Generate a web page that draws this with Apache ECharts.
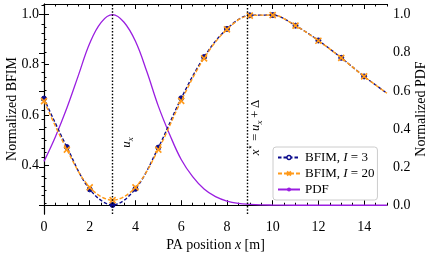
<!DOCTYPE html>
<html>
<head>
<meta charset="utf-8">
<script src="https://cdn.jsdelivr.net/npm/echarts@6/dist/echarts.min.js"></script>
<style>
html,body{margin:0;padding:0;background:#fff;}
#c{width:432px;height:257px;}
</style>
</head>
<body>
<div id="c"></div>
<script>
// ---- data ----
var positions = [0,1,2,3,4,5,6,7,8,9,10,11,12,13,14,15];
var bfimI3  = [0.665,0.472,0.304,0.242,0.306,0.470,0.666,0.830,0.942,0.996,0.997,0.955,0.896,0.827,0.753,0.686];
var bfimI20 = [0.655,0.462,0.312,0.261,0.312,0.462,0.656,0.825,0.940,0.995,0.997,0.955,0.895,0.827,0.753,0.686];
var pdfX = [0,0.5,1,1.5,2,2.5,3,3.5,4,4.5,5,5.5,6,6.5,7,7.5,8,8.5,9,9.5,10,11,12,13,14,15];
var pdfY = [0.23,0.36,0.51,0.68,0.85,0.96,1.0,0.96,0.86,0.70,0.52,0.37,0.24,0.15,0.085,0.045,0.022,0.010,0.005,0.002,0.001,0,0,0,0,0];
var refLines = [3, 8.9];            // u_x and x* = u_x + Delta
var xTicks = [0,2,4,6,8,10,12,14];
var yLeftTicks = [0.4,0.6,0.8,1.0];
var yRightTicks = [0.0,0.2,0.4,0.6,0.8,1.0];
var xRange = [0, 15];
var yLeftRange = [0.206, 1.041];
var yRightRange = [-0.046, 1.056];

function steps(a, b, s){ var r=[]; for (var v=a; v<=b+1e-9; v+=s) r.push(+v.toFixed(3)); return r; }
var xMinor = steps(0, 15, 0.5);
var yLeftMinor = steps(0.25, 1.0, 0.05);
var yRightMinor = steps(0, 1.05, 0.05);

var FONT = 'Liberation Serif';
var BLUE = '#0b0b8c', ORANGE = '#ff9a1a', PURPLE = '#9a1ee0';

function pairs(xs, ys){ return xs.map(function(x,i){ return [x, ys[i]]; }); }
function markPairs(xs, ys){
  return xs.map(function(x,i){ var p = {value:[x, ys[i]]}; if (x === 15) { p.symbolSize = 0; } return p; });
}

var lineAx = {show:true, lineStyle:{color:'#000', width:1.1}};
function xAx(pos, ticks, len, labels){
  return {
    type:'value', position:pos, min:xRange[0], max:xRange[1],
    axisLine: labels!==null ? lineAx : {show:false},
    splitLine:{show:false},
    axisTick:{show:true, inside:true, length:len, customValues:ticks, lineStyle:{color:'#000', width:1}},
    axisLabel: labels ? {show:true, customValues:xTicks, margin:6, color:'#000', fontFamily:FONT, fontSize:14} : {show:false}
  };
}
function yAx(pos, range, ticks, len, labels, name, nameGap){
  var o = {
    type:'value', position:pos, min:range[0], max:range[1],
    axisLine: labels!==null ? lineAx : {show:false},
    splitLine:{show:false},
    axisTick:{show:true, inside:true, length:len, customValues:ticks, lineStyle:{color:'#000', width:1}},
    axisLabel: labels ? {show:true, customValues:labels, margin:pos==='left'?5:6, color:'#000', fontFamily:FONT, fontSize:14,
                         formatter:function(v){ return v.toFixed(1); }} : {show:false}
  };
  if (name) {
    o.name = name; o.nameLocation = 'middle'; o.nameGap = nameGap; o.nameMoveOverlap = false;
    o.nameTextStyle = {color:'#000', fontFamily:FONT, fontSize:14};
  }
  return o;
}

var chart = echarts.init(document.getElementById('c'), null, {renderer:'canvas'});
var xAxes = [
  xAx('bottom', xTicks, 5, true),
  xAx('bottom', xMinor, 2.5, null),
  xAx('top', xTicks, 5, false),
  xAx('top', xMinor, 2.5, null)
];
xAxes[0].name = '{n|PA position }{i|x}{n| [m]}';
xAxes[0].nameLocation = 'middle';
xAxes[0].nameGap = 24;
xAxes[0].nameMoveOverlap = false;
xAxes[0].nameTextStyle = {color:'#000', fontFamily:FONT, fontSize:14,
  rich:{n:{fontFamily:FONT, fontSize:14, color:'#000'}, i:{fontFamily:FONT, fontSize:14, fontStyle:'italic', color:'#000'}}};

var yAxes = [
  yAx('left', yLeftRange, yLeftTicks, 5, yLeftTicks, 'Normalized BFIM', 25),
  yAx('left', yLeftRange, yLeftMinor, 2.5, null),
  yAx('right', yRightRange, yRightTicks, 5, yRightTicks, 'Normalized PDF', 27),
  yAx('right', yRightRange, yRightMinor, 2.5, null)
];

var xSym = 'path://M0,0L10,10M10,0L0,10';
var labelI = function(n){ return '{t|BFIM, }{i|I}{t| = ' + n + '}'; };

chart.setOption({
  animation:false,
  backgroundColor:'#fff',
  grid:{left:44, right:45, top:4, bottom:43, containLabel:false, outerBoundsMode:'none'},
  xAxis: xAxes,
  yAxis: yAxes,
  legend:{
    orient:'vertical', left:273, top:147,
    backgroundColor:'#fff', borderColor:'#cccccc', borderWidth:1, borderRadius:3,
    padding:[4,3,4,4], itemGap:3, itemWidth:22, itemHeight:5,
    data:[
      {name:'I3', itemStyle:{color:'#fff', borderColor:BLUE, borderWidth:1.3}},
      {name:'I20'},
      {name:'PDF'}
    ],
    formatter:function(n){ return n==='I3' ? labelI(3) : (n==='I20' ? labelI(20) : '{t|PDF}'); },
    textStyle:{color:'#000', fontFamily:FONT, fontSize:13,
      rich:{t:{fontFamily:FONT, fontSize:13, color:'#000'}, i:{fontFamily:FONT, fontSize:13, fontStyle:'italic', color:'#000'}}}
  },
  series:[
    {
      name:'PDF', type:'line', xAxisIndex:0, yAxisIndex:2,
      data: pairs(pdfX, pdfY), smooth:0.4, showSymbol:false, symbol:'none',
      lineStyle:{color:PURPLE, width:1.3}, itemStyle:{color:PURPLE}, z:2,
      markLine:{
        silent:true, symbol:['none','none'], label:{show:false},
        lineStyle:{color:'#000', type:[1.5,1.8], width:1.4},
        data: refLines.map(function(v){ return {xAxis:v}; })
      }
    },
    {
      name:'I3', type:'line', xAxisIndex:0, yAxisIndex:0,
      data: markPairs(positions, bfimI3), smooth:0.35,
      symbol:'circle', symbolSize:5, showAllSymbol:true,
      lineStyle:{color:BLUE, width:1.4, type:[3.5,2]},
      itemStyle:{color:BLUE, borderColor:BLUE, borderWidth:1}, z:3
    },
    {
      name:'I20', type:'line', xAxisIndex:0, yAxisIndex:0,
      data: markPairs(positions, bfimI20), smooth:0.35,
      symbol:xSym, symbolSize:6, showAllSymbol:true,
      lineStyle:{color:ORANGE, width:1.4, type:[4,2]},
      itemStyle:{color:ORANGE, borderColor:ORANGE, borderWidth:1.6}, z:4
    }
  ]
});

// annotations placed in data coordinates
var p1 = chart.convertToPixel({xAxisIndex:0, yAxisIndex:0}, [3.6, 0.49]);
var p2 = chart.convertToPixel({xAxisIndex:0, yAxisIndex:0}, [9.25, 0.55]);
var rich = {
  n:{fontFamily:FONT, fontSize:13, color:'#000'},
  i:{fontFamily:FONT, fontSize:13, fontStyle:'italic', color:'#000'},
  s:{fontFamily:FONT, fontSize:9, fontStyle:'italic', color:'#000', verticalAlign:'bottom', lineHeight:18},
  u:{fontFamily:FONT, fontSize:9, color:'#000', verticalAlign:'top', lineHeight:18}
};
chart.setOption({
  graphic:[
    {type:'text', x:p1[0], y:p1[1], rotation:Math.PI/2, z:10,
     style:{text:'{i|u}{s|x}', rich:rich, align:'center', verticalAlign:'middle', fontFamily:FONT, fontSize:13}},
    {type:'text', x:p2[0], y:p2[1], rotation:Math.PI/2, z:10,
     style:{text:'{i|x}{u|⋆}{n|\u2009=\u2009}{i|u}{s|x}{n|\u2009+\u2009Δ}', rich:rich, align:'center', verticalAlign:'middle', fontFamily:FONT, fontSize:13}}
  ]
});
</script>
</body>
</html>
